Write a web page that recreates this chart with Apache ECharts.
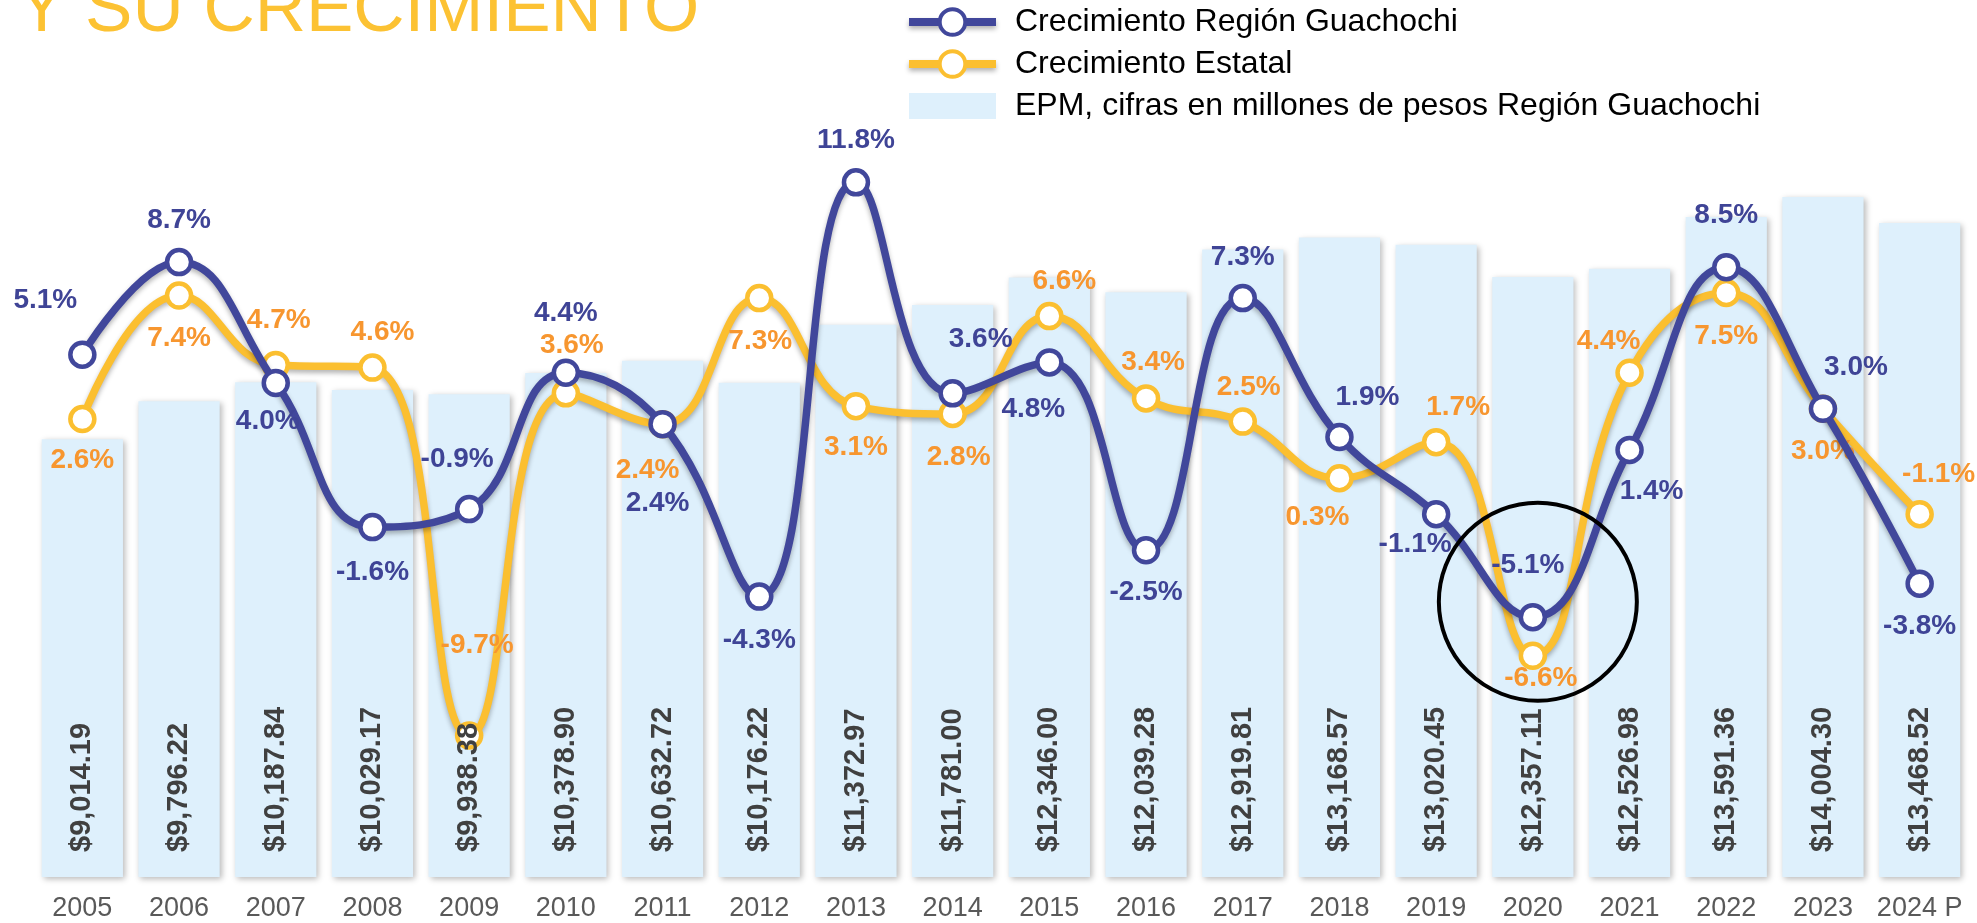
<!DOCTYPE html>
<html>
<head>
<meta charset="utf-8">
<script src="https://cdn.jsdelivr.net/npm/echarts@6/dist/echarts.min.js"></script>
<style>
html,body{margin:0;padding:0;background:#fff;}
#chart{width:1977px;height:923px;}
</style>
</head>
<body>
<div id="chart"></div>
<script>
const categories = ['2005','2006','2007','2008','2009','2010','2011','2012','2013','2014','2015','2016','2017','2018','2019','2020','2021','2022','2023','2024 P'];
const epmValues = [9014.19, 9796.22, 10187.84, 10029.17, 9938.38, 10378.90, 10632.72, 10176.22, 11372.97, 11781.00, 12346.00, 12039.28, 12919.81, 13168.57, 13020.45, 12357.11, 12526.98, 13591.36, 14004.30, 13468.52];
const growthRegion = [5.1, 8.7, 4.0, -1.6, -0.9, 4.4, 2.4, -4.3, 11.8, 3.6, 4.8, -2.5, 7.3, 1.9, -1.1, -5.1, 1.4, 8.5, 3.0, -3.8];
const growthState = [2.6, 7.4, 4.7, 4.6, -9.7, 3.6, 2.4, 7.3, 3.1, 2.8, 6.6, 3.4, 2.5, 0.3, 1.7, -6.6, 4.4, 7.5, 3.0, -1.1];

// label placement (pixel offsets from each point), layout only
const regionLabelOffsets = [[-37,-54],[0,-42],[-8,38],[0,45],[-12,-50],[0,-59],[-5,79],[0,44],[0,-42],[28,-54],[-16,47],[0,42],[0,-41],[28,-40],[-21,30],[-5,-52],[22,41],[0,-52],[33,-41],[0,43]];
const stateLabelOffsets = [[0,41],[0,43],[3,-45],[10,-35],[8,-90],[6,-48],[-15,46],[1,43],[0,41],[6,43],[15,-35],[7,-36],[6,-34],[-22,39],[22,-35],[8,23],[-21,-31],[0,43],[0,43],[19,-40]];

const FONT = "'Liberation Sans', Arial, sans-serif";
const BLUE = '#41479B';
const BLUE_TXT = '#3F4496';
const ORANGE = '#FBBF30';
const ORANGE_TXT = '#F7962F';
const BAR = '#DEF0FC';
const NAME_REGION = 'Crecimiento Región Guachochi';
const NAME_STATE = 'Crecimiento Estatal';
const NAME_EPM = 'EPM, cifras en millones de pesos Región Guachochi';

const chart = echarts.init(document.getElementById('chart'), null, {renderer: 'canvas'});

function pctData(values, offsets) {
  return values.map((v, i) => ({value: v, label: {offset: offsets[i]}}));
}

const lineCommon = (color, txt) => ({
  type: 'line',
  yAxisIndex: 1,
  smooth: 0.45,
  symbol: 'circle',
  symbolSize: 24,
  showAllSymbol: true,
  lineStyle: {width: 7.5, color: color, shadowColor: 'rgba(0,0,0,0.3)', shadowBlur: 5, shadowOffsetY: 3},
  itemStyle: {color: '#fff', borderColor: color, borderWidth: 4.5},
  label: {
    show: true, position: 'inside', align: 'center', verticalAlign: 'middle',
    formatter: p => p.value.toFixed(1) + '%',
    fontFamily: FONT, fontSize: 28, fontWeight: 'bold', color: txt
  },
  emphasis: {disabled: true}
});

const option = {
  animation: false,
  backgroundColor: '#fff',
  textStyle: {fontFamily: FONT},
  grid: {left: 34, right: 9, top: 100, bottom: 46, containLabel: false},
  legend: {
    orient: 'vertical', left: 905, top: 6, padding: 0,
    itemWidth: 87, itemHeight: 32, itemGap: 10,
    lineStyle: {width: 8, shadowColor: 'rgba(0,0,0,0.3)', shadowBlur: 5, shadowOffsetY: 3},
    itemStyle: {borderWidth: 4},
    data: [
      {name: NAME_REGION},
      {name: NAME_STATE},
      {name: NAME_EPM, icon: 'path://M0,0 M87,32 M0,3 L87,3 L87,29 L0,29 Z', itemStyle: {color: BAR, shadowBlur: 0, shadowOffsetX: 0, shadowOffsetY: 0}}
    ],
    textStyle: {fontFamily: FONT, fontSize: 32, color: '#000', padding: [0, 0, 0, 14]}
  },
  xAxis: {
    type: 'category', data: categories,
    axisLine: {show: false}, axisTick: {show: false},
    axisLabel: {interval: 0, fontFamily: FONT, fontSize: 27, color: '#595959', margin: 18}
  },
  yAxis: [
    {type: 'value', min: 0, max: 16000, show: false, splitLine: {show: false}},
    {type: 'value', min: -15.2, max: 15, show: false, splitLine: {show: false}}
  ],
  series: [
    {
      name: NAME_EPM,
      type: 'bar', data: epmValues, barCategoryGap: '16%',
      itemStyle: {color: BAR, shadowColor: 'rgba(0,0,0,0.28)', shadowBlur: 6, shadowOffsetX: 2, shadowOffsetY: 2},
      emphasis: {disabled: true},
      z: 1
    },
    {
      name: 'EPM labels',
      type: 'bar', data: epmValues, barCategoryGap: '16%', barGap: '-100%',
      itemStyle: {color: 'rgba(0,0,0,0)'},
      label: {
        show: true, position: 'insideBottom', distance: 25, rotate: 90,
        align: 'left', verticalAlign: 'middle',
        formatter: p => '$' + p.value.toLocaleString('en-US', {minimumFractionDigits: 2, maximumFractionDigits: 2}),
        fontFamily: FONT, fontSize: 29, fontWeight: 'bold', color: '#404040'
      },
      emphasis: {disabled: true},
      silent: true,
      z: 6
    },
    Object.assign(lineCommon(ORANGE, ORANGE_TXT), {name: NAME_STATE, data: pctData(growthState, stateLabelOffsets), z: 3}),
    Object.assign(lineCommon(BLUE, BLUE_TXT), {name: NAME_REGION, data: pctData(growthRegion, regionLabelOffsets), z: 4})
  ]
};
chart.setOption(option);

const center = chart.convertToPixel({xAxisIndex: 0, yAxisIndex: 1}, ['2020', -4.5]);
chart.setOption({
  graphic: [
    {
      type: 'text', left: 18, top: -24, z: 10,
      style: {text: 'Y SU CRECIMIENTO', fill: '#FCC233', font: "71px 'Liberation Sans', Arial, sans-serif"}
    },
    {
      type: 'circle', shape: {cx: center[0] + 5, cy: center[1], r: 99}, z: 10,
      style: {fill: 'none', stroke: '#000', lineWidth: 4}
    }
  ]
});
</script>
</body>
</html>
